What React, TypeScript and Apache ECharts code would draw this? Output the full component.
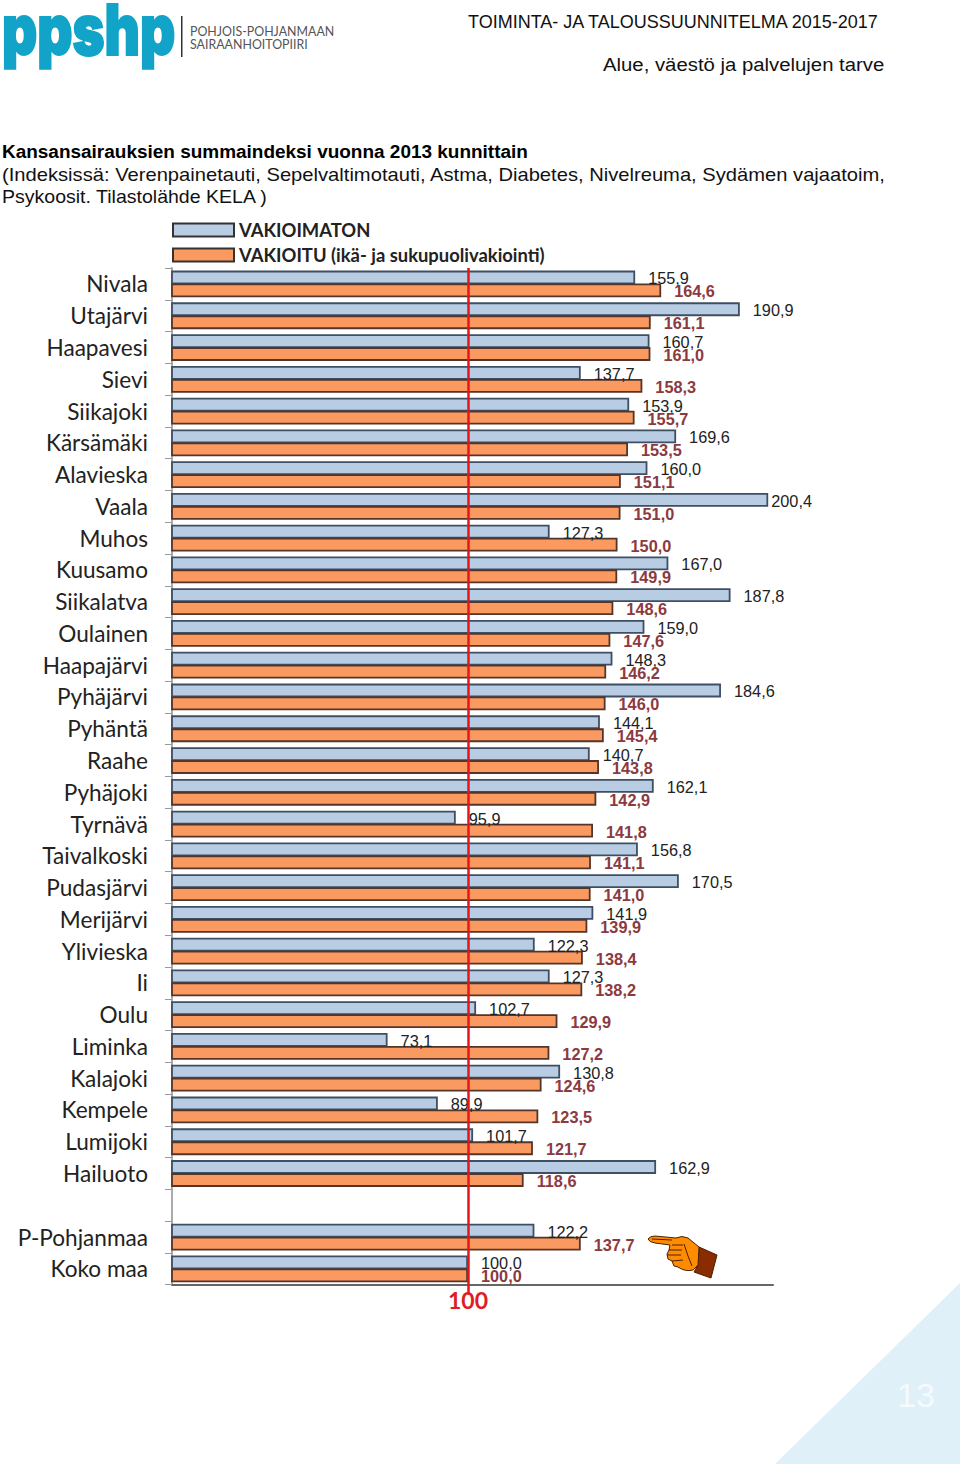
import React, { useEffect, useRef } from "react";
import * as echarts from "echarts";

const categories = ["Nivala","Utajärvi","Haapavesi","Sievi","Siikajoki","Kärsämäki","Alavieska","Vaala","Muhos","Kuusamo","Siikalatva","Oulainen","Haapajärvi","Pyhäjärvi","Pyhäntä","Raahe","Pyhäjoki","Tyrnävä","Taivalkoski","Pudasjärvi","Merijärvi","Ylivieska","Ii","Oulu","Liminka","Kalajoki","Kempele","Lumijoki","Hailuoto"," ","P-Pohjanmaa","Koko maa"];
const vakioimaton = [155.9,190.9,160.7,137.7,153.9,169.6,160.0,200.4,127.3,167.0,187.8,159.0,148.3,184.6,144.1,140.7,162.1,95.9,156.8,170.5,141.9,122.3,127.3,102.7,73.1,130.8,89.9,101.7,162.9,null,122.2,100.0];
const vakioitu = [164.6,161.1,161.0,158.3,155.7,153.5,151.1,151.0,150.0,149.9,148.6,147.6,146.2,146.0,145.4,143.8,142.9,141.8,141.1,141.0,139.9,138.4,138.2,129.9,127.2,124.6,123.5,121.7,118.6,null,137.7,100.0];
const referenceTicks = [100];

const handPath = "M648 1239 Q650 1236 655 1236 L676 1238 Q682 1235 688 1238 L699 1247 L698 1265 L693 1270 Q685 1272 678 1267 L674 1266 L672 1261 L668 1259 L667 1254 L669 1250 L670 1245 L655 1243 Q649 1242 648 1239 Z";
const handLines = "M672 1245 L683 1245 M669 1250 L682 1250 M667 1255 L681 1255 M672 1261 L683 1260 M684 1244 L688 1256 L692 1266 M652 1239 L672 1240";
const cuffPath = "M699 1247 L717 1255 L711 1278 L694 1272 L698 1265 Z";
const logoText = "ppshp";
const fmt = (v: number) => v.toFixed(1).replace(".", ",");
const sans = "'Liberation Sans', Arial, sans-serif";

function txt(text: string, x: number, y: number, fontSize: number, fill: string, fontWeight: any = "normal", fontFamily = sans, scaleX = 1) {
  return { type: "text", x, y, scaleX, silent: true, z: 10, style: { text, x: 0, y: 0, fontSize, fill, fontWeight, fontFamily, verticalAlign: "middle" } };
}

export default function App() {
  const ref = useRef<HTMLDivElement>(null);
  useEffect(() => {
    echarts.graphic.registerShape("hand", echarts.graphic.extendPath(handPath, {}) as any);
    echarts.graphic.registerShape("handLines", echarts.graphic.extendPath(handLines, {}) as any);
    echarts.graphic.registerShape("cuff", echarts.graphic.extendPath(cuffPath, {}) as any);
    const chart = echarts.init(ref.current!, null, { renderer: "svg" });
    const labelBase = { show: true, position: "right", distance: 13, offset: [0, 1], fontFamily: sans, fontSize: 16.3, formatter: (p: any) => fmt(p.value) };
    chart.setOption({
      animation: false,
      backgroundColor: "#fff",
      grid: { left: 172, top: 268.1, width: 601, height: 1016.6, containLabel: false },
      legend: {
        left: 172, top: 221, orient: "vertical", itemWidth: 61, itemHeight: 13, itemGap: 7, padding: 0,
        icon: "rect",
        itemStyle: { borderWidth: 2, borderColor: "#333" },
        selectedMode: false,
        textStyle: { fontFamily: "Lato", fontWeight: "bold", fontSize: 18.4, color: "#222" },
      },
      xAxis: {
        type: "value", min: 1, max: 202,
        splitLine: { show: false },
        axisLine: { show: true, lineStyle: { color: "#666", width: 2 } },
        axisTick: { show: true, customValues: referenceTicks, length: 10, lineStyle: { color: "#e8141c", width: 2.5 } },
        axisLabel: { customValues: referenceTicks, margin: 4, color: "#e01c24", fontFamily: "Lato", fontWeight: "bold", fontSize: 23 },
      },
      yAxis: {
        type: "category", inverse: true, data: categories,
        axisLine: { show: true, lineStyle: { color: "#aaa", width: 2 } },
        axisTick: { show: true, alignWithLabel: false, length: 7, lineStyle: { color: "#999", width: 1 } },
        axisLabel: { interval: 0, margin: 24, color: "#222", fontFamily: "Lato", fontSize: 22.6, padding: [0, 0, 2, 0] },
      },
      series: [
        {
          name: "VAKIOIMATON", type: "bar", barWidth: 13.8, barGap: "-6%",
          data: vakioimaton.map((v) => (v === 200.4 ? { value: v, label: { distance: 3 } } : v)),
          itemStyle: { color: "#b8cce4", borderColor: "#3f4f63", borderWidth: 1.8 },
          label: { ...labelBase, color: "#222" },
          markLine: {
            silent: true, symbol: "none", animation: false, label: { show: false },
            lineStyle: { color: "#e8141c", width: 2.5, type: "solid" },
            data: [{ xAxis: referenceTicks[0] }],
          },
          z: 3,
        },
        {
          name: "VAKIOITU (ikä- ja sukupuolivakiointi)", type: "bar", data: vakioitu, barWidth: 13.8, barGap: "-6%",
          itemStyle: { color: "#fb9a60", borderColor: "#54352a", borderWidth: 1.8 },
          label: { ...labelBase, color: "#8c3a40", fontWeight: "bold" },
          z: 3,
        },
      ],
      graphic: [
        { type: "polygon", silent: true, z: 0, shape: { points: [[775, 1464], [960, 1283], [960, 1464]] }, style: { fill: "#e0f0f8" } },
        txt("13", 897, 1395, 34, "#f4fafd"),
        { type: "text", x: 2, y: 29, scaleX: 0.78, silent: true, z: 10, style: { text: logoText, x: 0, y: 0, fontSize: 70, fill: "#12a3c8", stroke: "#12a3c8", lineWidth: 2, fontWeight: 900, fontFamily: "Inter", verticalAlign: "middle" } },
        { type: "rect", silent: true, shape: { x: 181, y: 16, width: 1.5, height: 41 }, style: { fill: "#333" } },
        txt("POHJOIS-POHJANMAAN", 190, 31, 12.4, "#555", "normal", "Lato"),
        txt("SAIRAANHOITOPIIRI", 190, 44, 12.4, "#555", "normal", "Lato"),
        txt("TOIMINTA- JA TALOUSSUUNNITELMA 2015-2017", 468, 22, 18, "#111"),
        txt("Alue, väestö ja palvelujen tarve", 603, 65, 18, "#111", "normal", sans, 1.13),
        txt("Kansansairauksien summaindeksi vuonna 2013 kunnittain", 2, 152, 18, "#000", "bold", sans, 1.054),
        txt("(Indeksissä: Verenpainetauti, Sepelvaltimotauti, Astma, Diabetes, Nivelreuma, Sydämen vajaatoim,", 2, 175, 18, "#111", "normal", sans, 1.12),
        txt("Psykoosit. Tilastolähde KELA )", 2, 197, 18, "#111", "normal", sans, 1.086),
        { type: "cuff", silent: true, z: 10, x: 0, y: 0, style: { fill: "#8a2c00", stroke: "#4a2000", lineWidth: 1 } },
        { type: "hand", silent: true, z: 11, x: 0, y: 0, style: { fill: "#ff8c00", stroke: "#4a2000", lineWidth: 1 } },
        { type: "handLines", silent: true, z: 12, x: 0, y: 0, style: { fill: "none", stroke: "#4a2000", lineWidth: 1 } },
      ],
    });
    return () => chart.dispose();
  }, []);
  return <div ref={ref} style={{ position: "absolute", left: 0, top: 0, width: 960, height: 1464 }} />;
}
